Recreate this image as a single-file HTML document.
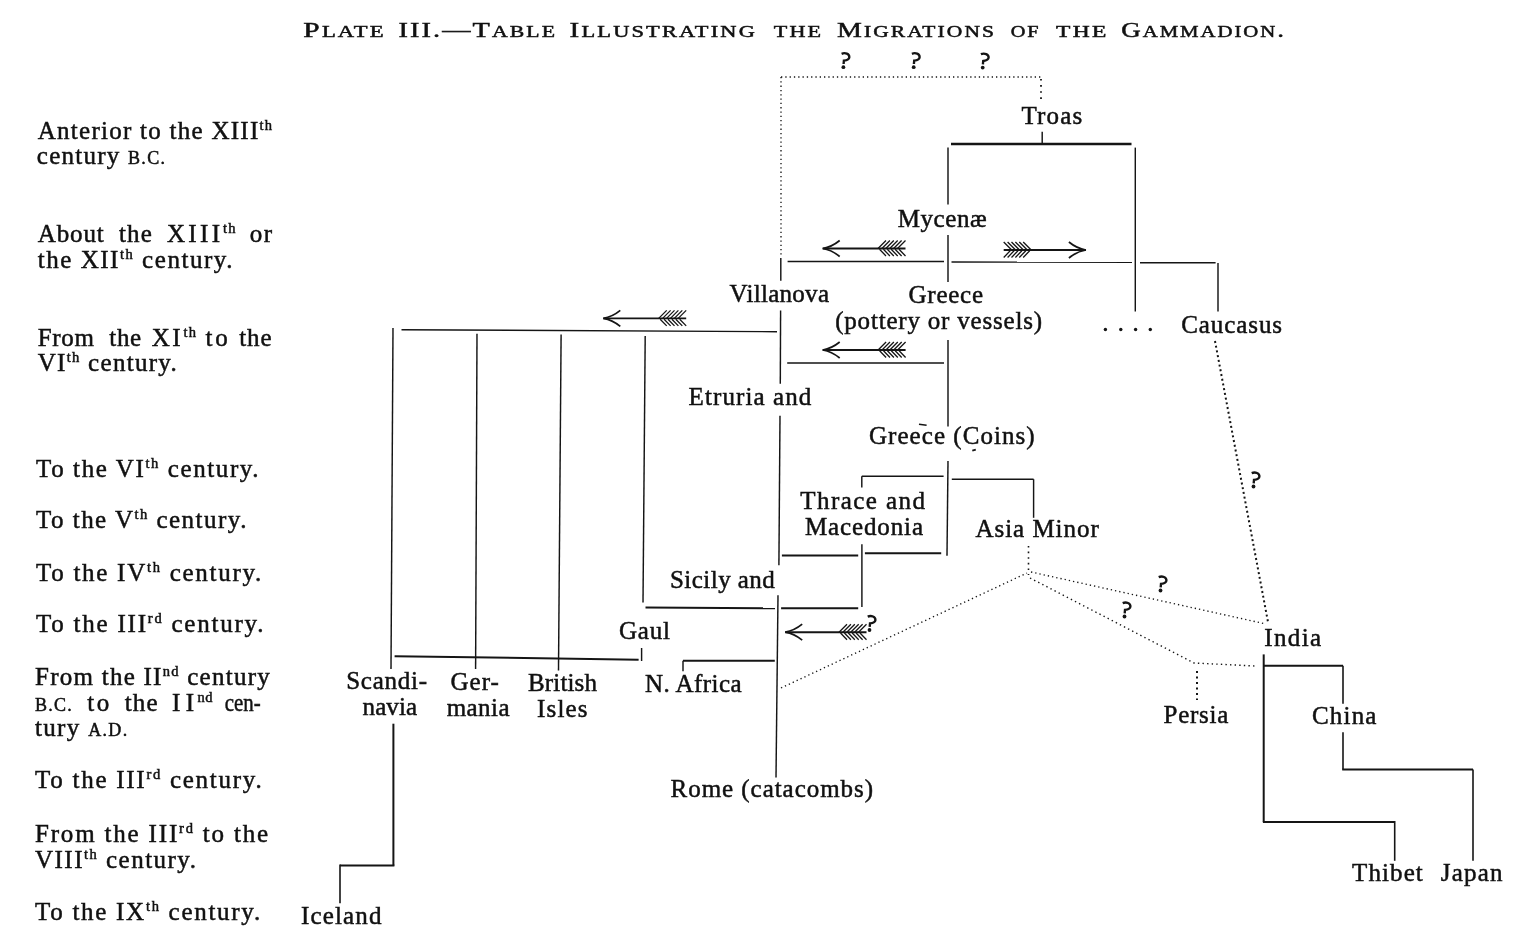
<!DOCTYPE html>
<html><head><meta charset="utf-8"><style>
html,body{margin:0;padding:0;background:#fff;overflow:hidden;}
svg{display:block;will-change:transform;}
text{font-family:"Liberation Serif",serif;fill:#111;stroke:#111;stroke-width:0.5px;}
line,polyline,path{stroke:#151515;}
circle{fill:#151515;}
</style></head><body>
<svg width="1520" height="936" viewBox="0 0 1520 936">
<text id="t0" x="37.80" y="138.70" font-size="25" textLength="234.20" lengthAdjust="spacing"><tspan>Anterior to the XIII</tspan><tspan font-size="14.5" dy="-9.0">th</tspan></text>
<text id="t1" x="36.80" y="163.60" font-size="25" textLength="128.10" lengthAdjust="spacing"><tspan>century </tspan><tspan font-size="18.0">B.C.</tspan></text>
<text id="t2" x="37.69" y="242.00" font-size="25" textLength="66.03" lengthAdjust="spacing"><tspan>About</tspan></text>
<text id="t3" x="119.00" y="242.00" font-size="25" textLength="32.80" lengthAdjust="spacing"><tspan>the</tspan></text>
<text id="t4" x="167.00" y="242.00" font-size="25" textLength="52.98" lengthAdjust="spacing"><tspan>XIII</tspan></text>
<text id="t5" x="222.88" y="242.00" font-size="25" textLength="12.53" lengthAdjust="spacing"><tspan font-size="14.5" dy="-9.0">th</tspan></text>
<text id="t6" x="249.82" y="242.00" font-size="25" textLength="22.18" lengthAdjust="spacing"><tspan>or</tspan></text>
<text id="t7" x="37.70" y="268.00" font-size="25" textLength="194.79" lengthAdjust="spacing"><tspan>the XII</tspan><tspan font-size="14.5" dy="-9.0">th</tspan><tspan dy="9.0"> century.</tspan></text>
<text id="t8" x="37.69" y="345.90" font-size="25" textLength="56.31" lengthAdjust="spacing"><tspan>From</tspan></text>
<text id="t9" x="109.35" y="345.90" font-size="25" textLength="31.84" lengthAdjust="spacing"><tspan>the</tspan></text>
<text id="t10" x="151.66" y="345.90" font-size="25" textLength="28.96" lengthAdjust="spacing"><tspan>XI</tspan></text>
<text id="t11" x="183.47" y="345.90" font-size="25" textLength="12.53" lengthAdjust="spacing"><tspan font-size="14.5" dy="-9.0">th</tspan></text>
<text id="t12" x="205.56" y="345.90" font-size="25" textLength="22.17" lengthAdjust="spacing"><tspan>to</tspan></text>
<text id="t13" x="239.22" y="345.90" font-size="25" textLength="32.28" lengthAdjust="spacing"><tspan>the</tspan></text>
<text id="t14" x="37.70" y="370.90" font-size="25" textLength="139.10" lengthAdjust="spacing"><tspan>VI</tspan><tspan font-size="14.5" dy="-9.0">th</tspan><tspan dy="9.0"> century.</tspan></text>
<text id="t15" x="36.00" y="476.90" font-size="25" textLength="222.60" lengthAdjust="spacing"><tspan>To the VI</tspan><tspan font-size="14.5" dy="-9.0">th</tspan><tspan dy="9.0"> century.</tspan></text>
<text id="t16" x="36.00" y="528.20" font-size="25" textLength="210.40" lengthAdjust="spacing"><tspan>To the V</tspan><tspan font-size="14.5" dy="-9.0">th</tspan><tspan dy="9.0"> century.</tspan></text>
<text id="t17" x="36.00" y="581.00" font-size="25" textLength="225.30" lengthAdjust="spacing"><tspan>To the IV</tspan><tspan font-size="14.5" dy="-9.0">th</tspan><tspan dy="9.0"> century.</tspan></text>
<text id="t18" x="36.00" y="632.30" font-size="25" textLength="227.50" lengthAdjust="spacing"><tspan>To the III</tspan><tspan font-size="14.5" dy="-9.0">rd</tspan><tspan dy="9.0"> century.</tspan></text>
<text id="t19" x="35.01" y="685.20" font-size="25" textLength="234.70" lengthAdjust="spacing"><tspan>From the II</tspan><tspan font-size="14.5" dy="-9.0">nd</tspan><tspan dy="9.0"> century</tspan></text>
<text id="t20" x="35.01" y="710.60" font-size="25" textLength="36.77" lengthAdjust="spacing"><tspan font-size="18.0">B.C.</tspan></text>
<text id="t21" x="87.29" y="710.60" font-size="25" textLength="21.93" lengthAdjust="spacing"><tspan>to</tspan></text>
<text id="t22" x="124.68" y="710.60" font-size="25" textLength="32.92" lengthAdjust="spacing"><tspan>the</tspan></text>
<text id="t23" x="172.05" y="710.60" font-size="25" textLength="21.95" lengthAdjust="spacing"><tspan>II</tspan></text>
<text id="t24" x="197.43" y="710.60" font-size="25" textLength="15.14" lengthAdjust="spacing"><tspan font-size="14.5" dy="-9.0">nd</tspan></text>
<text id="t25" x="224.80" y="710.60" font-size="25" textLength="35.92" lengthAdjust="spacingAndGlyphs"><tspan>cen-</tspan></text>
<text id="t26" x="35.00" y="736.00" font-size="25" textLength="92.20" lengthAdjust="spacing"><tspan>tury </tspan><tspan font-size="18.0">A.D.</tspan></text>
<text id="t27" x="35.00" y="788.30" font-size="25" textLength="226.70" lengthAdjust="spacing"><tspan>To the III</tspan><tspan font-size="14.5" dy="-9.0">rd</tspan><tspan dy="9.0"> century.</tspan></text>
<text id="t28" x="35.00" y="842.20" font-size="25" textLength="233.20" lengthAdjust="spacing"><tspan>From the III</tspan><tspan font-size="14.5" dy="-9.0">rd</tspan><tspan dy="9.0"> to the</tspan></text>
<text id="t29" x="35.00" y="867.60" font-size="25" textLength="160.99" lengthAdjust="spacing"><tspan>VIII</tspan><tspan font-size="14.5" dy="-9.0">th</tspan><tspan dy="9.0"> century.</tspan></text>
<text id="t30" x="35.00" y="920.00" font-size="25" textLength="225.20" lengthAdjust="spacing"><tspan>To the IX</tspan><tspan font-size="14.5" dy="-9.0">th</tspan><tspan dy="9.0"> century.</tspan></text>
<text id="t31" x="1021.39" y="124.40" font-size="25" textLength="60.91" lengthAdjust="spacing"><tspan>Troas</tspan></text>
<text id="t32" x="897.79" y="227.30" font-size="25" textLength="88.81" lengthAdjust="spacing"><tspan>Mycenæ</tspan></text>
<text id="t33" x="729.60" y="302.40" font-size="25" textLength="99.40" lengthAdjust="spacing"><tspan>Villanova</tspan></text>
<text id="t34" x="908.59" y="302.90" font-size="25" textLength="74.41" lengthAdjust="spacing"><tspan>Greece</tspan></text>
<text id="t35" x="835.20" y="328.50" font-size="25" textLength="206.80" lengthAdjust="spacing"><tspan>(pottery or vessels)</tspan></text>
<text id="t36" x="1181.29" y="332.90" font-size="25" textLength="100.71" lengthAdjust="spacing"><tspan>Caucasus</tspan></text>
<text id="t37" x="688.59" y="404.80" font-size="25" textLength="122.71" lengthAdjust="spacing"><tspan>Etruria and</tspan></text>
<text id="t38" x="869.00" y="443.90" font-size="25" textLength="165.61" lengthAdjust="spacing"><tspan>Greece (Coins)</tspan></text>
<text id="t39" x="800.29" y="508.60" font-size="25" textLength="124.71" lengthAdjust="spacing"><tspan>Thrace and</tspan></text>
<text id="t40" x="805.01" y="534.60" font-size="25" textLength="117.99" lengthAdjust="spacing"><tspan>Macedonia</tspan></text>
<text id="t41" x="975.50" y="537.00" font-size="25" textLength="123.21" lengthAdjust="spacing"><tspan>Asia Minor</tspan></text>
<text id="t42" x="670.01" y="587.50" font-size="25" textLength="104.79" lengthAdjust="spacing"><tspan>Sicily and</tspan></text>
<text id="t43" x="619.02" y="639.30" font-size="25" textLength="50.98" lengthAdjust="spacing"><tspan>Gaul</tspan></text>
<text id="t44" x="1264.20" y="645.80" font-size="25" textLength="56.93" lengthAdjust="spacing"><tspan>India</tspan></text>
<text id="t45" x="346.20" y="689.20" font-size="25" textLength="80.80" lengthAdjust="spacing"><tspan>Scandi-</tspan></text>
<text id="t46" x="362.57" y="715.20" font-size="25" textLength="54.56" lengthAdjust="spacing"><tspan>navia</tspan></text>
<text id="t47" x="450.48" y="689.60" font-size="25" textLength="48.32" lengthAdjust="spacing"><tspan>Ger-</tspan></text>
<text id="t48" x="446.69" y="715.70" font-size="25" textLength="62.85" lengthAdjust="spacing"><tspan>mania</tspan></text>
<text id="t49" x="528.01" y="690.80" font-size="25" textLength="68.99" lengthAdjust="spacing"><tspan>British</tspan></text>
<text id="t50" x="537.00" y="716.90" font-size="25" textLength="50.53" lengthAdjust="spacing"><tspan>Isles</tspan></text>
<text id="t51" x="645.01" y="691.80" font-size="25" textLength="96.60" lengthAdjust="spacing"><tspan>N. Africa</tspan></text>
<text id="t52" x="1163.50" y="722.60" font-size="25" textLength="64.91" lengthAdjust="spacing"><tspan>Persia</tspan></text>
<text id="t53" x="1312.02" y="724.30" font-size="25" textLength="64.40" lengthAdjust="spacing"><tspan>China</tspan></text>
<text id="t54" x="670.60" y="797.30" font-size="25" textLength="202.40" lengthAdjust="spacing"><tspan>Rome (catacombs)</tspan></text>
<text id="t55" x="1352.00" y="881.40" font-size="25" textLength="70.82" lengthAdjust="spacing"><tspan>Thibet</tspan></text>
<text id="t56" x="1440.79" y="881.40" font-size="25" textLength="61.62" lengthAdjust="spacing"><tspan>Japan</tspan></text>
<text id="t57" x="301.01" y="924.10" font-size="25" textLength="80.50" lengthAdjust="spacing"><tspan>Iceland</tspan></text>
<text id="t58" x="303.37" y="37.10" font-size="21.5" letter-spacing="1.6" style="stroke-width:0.5px" textLength="82.47" lengthAdjust="spacingAndGlyphs"><tspan>P</tspan><tspan font-size="16.55">LATE</tspan></text>
<text id="t59" x="398.49" y="37.10" font-size="21.5" letter-spacing="1.6" style="stroke-width:0.5px" textLength="158.55" lengthAdjust="spacingAndGlyphs"><tspan>III.—T</tspan><tspan font-size="16.55">ABLE</tspan></text>
<text id="t60" x="569.59" y="37.10" font-size="21.5" letter-spacing="1.6" style="stroke-width:0.5px" textLength="187.43" lengthAdjust="spacingAndGlyphs"><tspan>I</tspan><tspan font-size="16.55">LLUSTRATING</tspan></text>
<text id="t61" x="773.89" y="37.10" font-size="21.5" letter-spacing="1.6" style="stroke-width:0.5px" textLength="49.37" lengthAdjust="spacingAndGlyphs"><tspan font-size="16.55">THE</tspan></text>
<text id="t62" x="836.99" y="37.10" font-size="21.5" letter-spacing="1.6" style="stroke-width:0.5px" textLength="159.03" lengthAdjust="spacingAndGlyphs"><tspan>M</tspan><tspan font-size="16.55">IGRATIONS</tspan></text>
<text id="t63" x="1010.66" y="37.10" font-size="21.5" letter-spacing="1.6" style="stroke-width:0.5px" textLength="29.78" lengthAdjust="spacingAndGlyphs"><tspan font-size="16.55">OF</tspan></text>
<text id="t64" x="1056.09" y="37.10" font-size="21.5" letter-spacing="1.6" style="stroke-width:0.5px" textLength="52.50" lengthAdjust="spacingAndGlyphs"><tspan font-size="16.55">THE</tspan></text>
<text id="t65" x="1121.18" y="37.10" font-size="21.5" letter-spacing="1.6" style="stroke-width:0.5px" textLength="164.90" lengthAdjust="spacingAndGlyphs"><tspan>G</tspan><tspan font-size="16.55">AMMADION</tspan><tspan>.</tspan></text>
<line x1="1042.2" y1="131.7" x2="1042.2" y2="144" stroke-width="1.45"/>
<line x1="951" y1="144" x2="1131.5" y2="144" stroke-width="2.4"/>
<line x1="948" y1="147.6" x2="948" y2="204.4" stroke-width="1.45"/>
<line x1="948" y1="235" x2="948" y2="282" stroke-width="1.45"/>
<line x1="948" y1="340" x2="948" y2="426.6" stroke-width="1.45"/>
<line x1="948" y1="461" x2="947" y2="555.7" stroke-width="1.45"/>
<line x1="1135.3" y1="147.6" x2="1135.3" y2="311.5" stroke-width="1.45"/>
<line x1="787.6" y1="261.5" x2="944" y2="261.5" stroke-width="1.45"/>
<line x1="951.5" y1="262" x2="1132" y2="262.3" stroke-width="1.45"/>
<line x1="1140" y1="262.8" x2="1215.6" y2="262.8" stroke-width="1.45"/>
<line x1="1218" y1="263" x2="1218" y2="311.5" stroke-width="1.45"/>
<line x1="780.8" y1="258" x2="780.8" y2="280.8" stroke-width="1.45"/>
<line x1="780.6" y1="310.4" x2="780.3" y2="383.8" stroke-width="1.45"/>
<line x1="780" y1="415.8" x2="778.9" y2="565.3" stroke-width="1.45"/>
<line x1="778" y1="595.2" x2="776" y2="777.6" stroke-width="1.45"/>
<line x1="401.5" y1="329.8" x2="777" y2="331.7" stroke-width="1.45"/>
<line x1="393" y1="328" x2="391" y2="669" stroke-width="1.45"/>
<line x1="477" y1="333.8" x2="475.6" y2="669" stroke-width="1.45"/>
<line x1="561.1" y1="334.5" x2="558.5" y2="670.4" stroke-width="1.45"/>
<line x1="645.2" y1="336" x2="643" y2="602.6" stroke-width="1.45"/>
<line x1="641.6" y1="648" x2="641.6" y2="661" stroke-width="1.45"/>
<line x1="394.6" y1="656.2" x2="638.6" y2="659.7" stroke-width="2.0"/>
<line x1="787.2" y1="363" x2="944" y2="363" stroke-width="1.45"/>
<line x1="861.8" y1="476.3" x2="861.8" y2="487.5" stroke-width="1.45"/>
<line x1="861.8" y1="476.3" x2="943.6" y2="476.3" stroke-width="1.45"/>
<line x1="951.8" y1="479.2" x2="1033.6" y2="479.2" stroke-width="1.45"/>
<line x1="1033.6" y1="479.2" x2="1033.6" y2="517.8" stroke-width="1.45"/>
<line x1="781.9" y1="555.5" x2="858.2" y2="555.5" stroke-width="2.0"/>
<line x1="864.9" y1="553.3" x2="941.2" y2="553.3" stroke-width="2.0"/>
<line x1="861.9" y1="544.3" x2="861.9" y2="607.1" stroke-width="1.45"/>
<line x1="645.5" y1="607.6" x2="775" y2="608.2" stroke-width="2.0"/>
<line x1="781.1" y1="608.2" x2="858.2" y2="608.2" stroke-width="2.0"/>
<line x1="683" y1="660.7" x2="683" y2="671.3" stroke-width="1.45"/>
<line x1="683" y1="660.7" x2="774.8" y2="660.7" stroke-width="2.0"/>
<line x1="393.4" y1="723.7" x2="393.4" y2="865.6" stroke-width="2.0"/>
<line x1="340" y1="865.6" x2="394.4" y2="865.6" stroke-width="2.0"/>
<line x1="340" y1="864.6" x2="340" y2="903.2" stroke-width="1.6"/>
<line x1="1263.7" y1="654.4" x2="1263.7" y2="822" stroke-width="2.0"/>
<line x1="1263.7" y1="665.8" x2="1343" y2="665.8" stroke-width="2.0"/>
<line x1="1343" y1="665.8" x2="1343" y2="703.8" stroke-width="1.6"/>
<line x1="1343" y1="732.2" x2="1343" y2="769.6" stroke-width="1.6"/>
<line x1="1342.2" y1="769.6" x2="1473" y2="769.6" stroke-width="2.0"/>
<line x1="1473" y1="769.6" x2="1473" y2="860.8" stroke-width="1.6"/>
<line x1="1262.9" y1="822" x2="1394.7" y2="822" stroke-width="2.0"/>
<line x1="1394.7" y1="821" x2="1394.7" y2="860.8" stroke-width="1.6"/>
<polyline points="781,77 1041,77" fill="none" stroke-width="1.35" stroke-dasharray="1.3 3.0"/>
<polyline points="781,77 781,256" fill="none" stroke-width="1.35" stroke-dasharray="1.3 3.0"/>
<polyline points="1041,79 1041,101" fill="none" stroke-width="1.8" stroke-dasharray="1.6 4.5"/>
<polyline points="781,688 1027,573" fill="none" stroke-width="1.35" stroke-dasharray="1.3 3.0"/>
<polyline points="1028.5,546 1028.5,575" fill="none" stroke-width="1.6" stroke-dasharray="1.6 4"/>
<polyline points="1031,572 1266,624" fill="none" stroke-width="1.35" stroke-dasharray="1.3 3.0"/>
<polyline points="1030,578 1194,663 1255,666" fill="none" stroke-width="1.4" stroke-dasharray="1.4 3.2"/>
<polyline points="1197,671 1197,700" fill="none" stroke-width="2.0" stroke-dasharray="2 3.5"/>
<polyline points="1215,341 1268,622" fill="none" stroke-width="2.0" stroke-dasharray="2 2.8"/>
<g transform="translate(843.4,67.2)"><path d="M-1.8,-13.4 C1.7,-14.9 6.2,-13.4 5.9,-9.9 C5.7,-7.4 2.7,-6.9 0.5,-6.6 L0.2,-3.2" fill="none" stroke-width="2.35"/><circle cx="0" cy="0" r="1.9"/></g>
<g transform="translate(913.7,67.2)"><path d="M-1.8,-13.4 C1.7,-14.9 6.2,-13.4 5.9,-9.9 C5.7,-7.4 2.7,-6.9 0.5,-6.6 L0.2,-3.2" fill="none" stroke-width="2.35"/><circle cx="0" cy="0" r="1.9"/></g>
<g transform="translate(982.7,67.6)"><path d="M-1.8,-13.4 C1.7,-14.9 6.2,-13.4 5.9,-9.9 C5.7,-7.4 2.7,-6.9 0.5,-6.6 L0.2,-3.2" fill="none" stroke-width="2.35"/><circle cx="0" cy="0" r="1.9"/></g>
<g transform="translate(1253.5,486.5)"><path d="M-1.8,-13.4 C1.7,-14.9 6.2,-13.4 5.9,-9.9 C5.7,-7.4 2.7,-6.9 0.5,-6.6 L0.2,-3.2" fill="none" stroke-width="2.35"/><circle cx="0" cy="0" r="1.9"/></g>
<g transform="translate(1160.5,590.5)"><path d="M-1.8,-13.4 C1.7,-14.9 6.2,-13.4 5.9,-9.9 C5.7,-7.4 2.7,-6.9 0.5,-6.6 L0.2,-3.2" fill="none" stroke-width="2.35"/><circle cx="0" cy="0" r="1.9"/></g>
<g transform="translate(1124.5,616.5)"><path d="M-1.8,-13.4 C1.7,-14.9 6.2,-13.4 5.9,-9.9 C5.7,-7.4 2.7,-6.9 0.5,-6.6 L0.2,-3.2" fill="none" stroke-width="2.35"/><circle cx="0" cy="0" r="1.9"/></g>
<g transform="translate(869.5,630)"><path d="M-1.8,-13.4 C1.7,-14.9 6.2,-13.4 5.9,-9.9 C5.7,-7.4 2.7,-6.9 0.5,-6.6 L0.2,-3.2" fill="none" stroke-width="2.35"/><circle cx="0" cy="0" r="1.9"/></g>
<line x1="822.7" y1="248.5" x2="905.5" y2="248.5" stroke-width="1.9"/>
<path d="M839.7,240.5 Q831.7,247.0 822.7,248.5 Q831.7,250.0 839.7,256.5" fill="none" stroke-width="1.7"/>
<path d="M878.00,248.5 L886.00,240.5 M879.50,249.3 L886.00,256.0" fill="none" stroke-width="1.3"/>
<path d="M881.90,248.5 L889.90,240.5 M883.40,249.3 L889.90,256.0" fill="none" stroke-width="1.3"/>
<path d="M885.80,248.5 L893.80,240.5 M887.30,249.3 L893.80,256.0" fill="none" stroke-width="1.3"/>
<path d="M889.70,248.5 L897.70,240.5 M891.20,249.3 L897.70,256.0" fill="none" stroke-width="1.3"/>
<path d="M893.60,248.5 L901.60,240.5 M895.10,249.3 L901.60,256.0" fill="none" stroke-width="1.3"/>
<path d="M897.50,248.5 L905.50,240.5 M899.00,249.3 L905.50,256.0" fill="none" stroke-width="1.3"/>
<line x1="1085.9" y1="250" x2="1003.7" y2="250" stroke-width="1.9"/>
<path d="M1068.9,242 Q1076.9,248.5 1085.9,250 Q1076.9,251.5 1068.9,258" fill="none" stroke-width="1.7"/>
<path d="M1031.20,250 L1023.20,242 M1029.70,250.8 L1023.20,257.5" fill="none" stroke-width="1.3"/>
<path d="M1027.30,250 L1019.30,242 M1025.80,250.8 L1019.30,257.5" fill="none" stroke-width="1.3"/>
<path d="M1023.40,250 L1015.40,242 M1021.90,250.8 L1015.40,257.5" fill="none" stroke-width="1.3"/>
<path d="M1019.50,250 L1011.50,242 M1018.00,250.8 L1011.50,257.5" fill="none" stroke-width="1.3"/>
<path d="M1015.60,250 L1007.60,242 M1014.10,250.8 L1007.60,257.5" fill="none" stroke-width="1.3"/>
<path d="M1011.70,250 L1003.70,242 M1010.20,250.8 L1003.70,257.5" fill="none" stroke-width="1.3"/>
<line x1="603.3" y1="318.4" x2="686.2" y2="318.4" stroke-width="1.9"/>
<path d="M620.3,310.4 Q612.3,316.9 603.3,318.4 Q612.3,319.9 620.3,326.4" fill="none" stroke-width="1.7"/>
<path d="M658.70,318.4 L666.70,310.4 M660.20,319.2 L666.70,325.9" fill="none" stroke-width="1.3"/>
<path d="M662.60,318.4 L670.60,310.4 M664.10,319.2 L670.60,325.9" fill="none" stroke-width="1.3"/>
<path d="M666.50,318.4 L674.50,310.4 M668.00,319.2 L674.50,325.9" fill="none" stroke-width="1.3"/>
<path d="M670.40,318.4 L678.40,310.4 M671.90,319.2 L678.40,325.9" fill="none" stroke-width="1.3"/>
<path d="M674.30,318.4 L682.30,310.4 M675.80,319.2 L682.30,325.9" fill="none" stroke-width="1.3"/>
<path d="M678.20,318.4 L686.20,310.4 M679.70,319.2 L686.20,325.9" fill="none" stroke-width="1.3"/>
<line x1="822.7" y1="350" x2="905.6" y2="350" stroke-width="1.9"/>
<path d="M839.7,342 Q831.7,348.5 822.7,350 Q831.7,351.5 839.7,358" fill="none" stroke-width="1.7"/>
<path d="M878.10,350 L886.10,342 M879.60,350.8 L886.10,357.5" fill="none" stroke-width="1.3"/>
<path d="M882.00,350 L890.00,342 M883.50,350.8 L890.00,357.5" fill="none" stroke-width="1.3"/>
<path d="M885.90,350 L893.90,342 M887.40,350.8 L893.90,357.5" fill="none" stroke-width="1.3"/>
<path d="M889.80,350 L897.80,342 M891.30,350.8 L897.80,357.5" fill="none" stroke-width="1.3"/>
<path d="M893.70,350 L901.70,342 M895.20,350.8 L901.70,357.5" fill="none" stroke-width="1.3"/>
<path d="M897.60,350 L905.60,342 M899.10,350.8 L905.60,357.5" fill="none" stroke-width="1.3"/>
<line x1="785.2" y1="632.2" x2="866.5" y2="632.2" stroke-width="1.9"/>
<path d="M802.2,624.2 Q794.2,630.7 785.2,632.2 Q794.2,633.7 802.2,640.2" fill="none" stroke-width="1.7"/>
<path d="M839.00,632.2 L847.00,624.2 M840.50,633.0 L847.00,639.7" fill="none" stroke-width="1.3"/>
<path d="M842.90,632.2 L850.90,624.2 M844.40,633.0 L850.90,639.7" fill="none" stroke-width="1.3"/>
<path d="M846.80,632.2 L854.80,624.2 M848.30,633.0 L854.80,639.7" fill="none" stroke-width="1.3"/>
<path d="M850.70,632.2 L858.70,624.2 M852.20,633.0 L858.70,639.7" fill="none" stroke-width="1.3"/>
<path d="M854.60,632.2 L862.60,624.2 M856.10,633.0 L862.60,639.7" fill="none" stroke-width="1.3"/>
<path d="M858.50,632.2 L866.50,624.2 M860.00,633.0 L866.50,639.7" fill="none" stroke-width="1.3"/>
<circle cx="1105.4" cy="329.5" r="1.7"/>
<circle cx="1120.8" cy="329.5" r="1.7"/>
<circle cx="1135.6" cy="329.5" r="1.7"/>
<circle cx="1150.3" cy="329.5" r="1.7"/>
<path d="M919,424.3 L926.6,425.3" stroke-width="1.6" fill="none"/>
<path d="M972.3,450.6 L975.8,449.6" stroke-width="1.8" fill="none"/>
</svg></body></html>
